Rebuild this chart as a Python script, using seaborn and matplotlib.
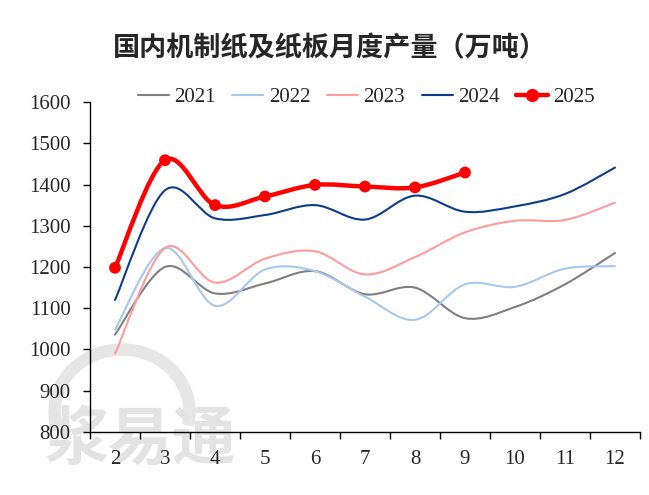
import numpy as np
import matplotlib
matplotlib.use('Agg')
import matplotlib.pyplot as plt
import seaborn as sns
from matplotlib.path import Path
from matplotlib.patches import PathPatch, Arc
from matplotlib.lines import Line2D

# data (万吨)
months = [2, 3, 4, 5, 6, 7, 8, 9, 10, 11, 12]
v2021 = [1036, 1200, 1136, 1160, 1190, 1134, 1150, 1076, 1103, 1158, 1234]
v2022 = [1048, 1246, 1106, 1194, 1190, 1128, 1072, 1158, 1152, 1196, 1202]
v2023 = [990, 1246, 1162, 1220, 1238, 1182, 1224, 1284, 1312, 1314, 1356]
v2024 = [1120, 1386, 1318, 1326, 1350, 1315, 1373, 1334, 1347, 1377, 1441]
v2025 = [1198, 1459, 1350, 1371, 1399, 1395, 1393, 1429]
years = ['2021', '2022', '2023', '2024', '2025']
colors = ['#7f7f7f', '#a6c8ef', '#ff9b9b', '#0c3d8a', '#ff0000']
yticks = [800, 900, 1000, 1100, 1200, 1300, 1400, 1500, 1600]


def smooth_path(x, y):
    # Excel style smoothed line: cubic bezier through the points
    pts = np.column_stack([x, y]).astype(float)
    n = len(pts)
    verts, codes = [pts[0]], [Path.MOVETO]
    for i in range(n - 1):
        p0 = pts[i - 1] if i > 0 else pts[i]
        p1, p2 = pts[i], pts[i + 1]
        p3 = pts[i + 2] if i + 2 < n else pts[i + 1]
        verts += [p1 + (p2 - p0) / 6, p2 - (p3 - p1) / 6, p2]
        codes += [Path.CURVE4] * 3
    return Path(verts, codes)


sns.set_style('ticks')
plt.rcParams['font.family'] = ['Liberation Serif', 'Noto Sans CJK SC']

fig = plt.figure(figsize=(6.49, 4.95), dpi=100)
ax = fig.add_axes([90 / 649, 1 - 432 / 495, 550 / 649, 330 / 495])
ax.patch.set_visible(False)

series = [v2021, v2022, v2023, v2024, v2025]
widths = [1.5, 1.5, 1.5, 1.5, 3.2]
for vals, c, lw in zip(series, colors, widths):
    ax.add_patch(PathPatch(smooth_path(months[:len(vals)], vals), fill=False,
                           edgecolor=c, lw=lw, capstyle='round', zorder=3))

sns.scatterplot(x=months[:len(v2025)], y=v2025, color=colors[4], s=72,
                edgecolor='none', ax=ax, zorder=5, legend=False)

ax.set_xlim(1.5, 12.5)
ax.set_ylim(800, 1600)
ax.set_yticks(yticks)
ax.set_xticks(np.arange(1.5, 13, 1))
ax.set_xticklabels([])
ax.set_xticks(months, minor=True)
ax.set_xticklabels([str(m) for m in months], minor=True)
ax.tick_params(axis='x', which='major', direction='out', length=5, width=1, color='black')
ax.tick_params(axis='x', which='minor', length=0, pad=13, labelsize=15)
ax.tick_params(axis='y', direction='out', length=5, width=1, color='black', pad=9, labelsize=15)
ax.set_xlabel('')
ax.set_ylabel('')
for s in ['left', 'bottom']:
    ax.spines[s].set_color('black')
    ax.spines[s].set_linewidth(1)
sns.despine(ax=ax)

handles = []
for yr, c in zip(years, colors):
    if yr == '2025':
        handles.append(Line2D([], [], color=c, lw=3.2, marker='o', markersize=8.5))
    else:
        handles.append(Line2D([], [], color=c, lw=1.5))
fig.legend(handles, years, loc='center', bbox_to_anchor=(366 / 649, 1 - 97 / 495),
           ncol=5, frameon=False, fontsize=15, handlelength=1.5, handletextpad=0.25,
           columnspacing=0.8, borderaxespad=0)

fig.text(330 / 649, 1 - 48 / 495, '国内机制纸及纸板月度产量（万吨）', ha='center', va='center',
         fontsize=19.5, fontweight='bold', family=['Noto Sans CJK SC', 'DejaVu Sans'])

# faint watermark at the lower left, behind the axes
fig.text(140 / 649, 1 - 440 / 495, '浆易通', ha='center', va='center', fontsize=46,
         fontweight='bold', color='#e3e3e3', family=['Noto Sans CJK SC'], zorder=-1)
fig.patches.append(Arc((122 / 649, 1 - 412 / 495), 135 / 649, 125 / 495, theta1=-15, theta2=195,
                       transform=fig.transFigure, color='#e6e6e6', lw=9, zorder=-1))

fig.savefig('out.png', dpi=100)
